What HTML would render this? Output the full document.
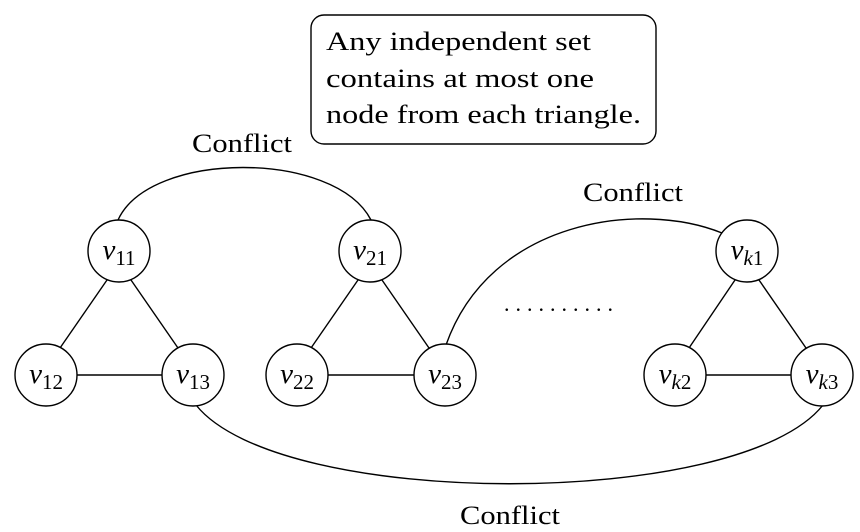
<!DOCTYPE html>
<html><head><meta charset="utf-8"><style>
html,body{margin:0;padding:0;background:#fff;}
svg{display:block;font-family:"Liberation Serif","DejaVu Serif",serif;}
</style></head><body>
<svg width="860" height="532" viewBox="0 0 860 532" xmlns="http://www.w3.org/2000/svg">
<g fill="none" stroke="#000" stroke-width="1.4">
<rect x="311" y="15" width="345" height="129" rx="13"/>
<path d="M118 220 C150 150,335 150,371 220"/>
<path d="M446 345 C490 220,640 200,722 233"/>
<path d="M196 405 C280 510,740 510,823 405"/>
<line x1="107" y1="280" x2="60" y2="348"/><line x1="131" y1="280" x2="178" y2="348"/><line x1="77" y1="375" x2="162" y2="375"/>
<line x1="358" y1="280" x2="311" y2="348"/><line x1="382" y1="280" x2="429" y2="348"/><line x1="328" y1="375" x2="414" y2="375"/>
<line x1="735" y1="280" x2="689" y2="348"/><line x1="759" y1="280" x2="806" y2="348"/><line x1="706" y1="375" x2="791" y2="375"/>
<g fill="#fff">
<circle cx="119" cy="251" r="31"/><circle cx="370" cy="251" r="31"/><circle cx="747" cy="251" r="31"/>
<circle cx="46" cy="375" r="31"/><circle cx="193" cy="375" r="31"/><circle cx="297" cy="375" r="31"/>
<circle cx="445" cy="375" r="31"/><circle cx="675" cy="375" r="31"/><circle cx="822" cy="375" r="31"/>
</g></g>
<g font-size="26" fill="#000">
<text x="326" y="50" textLength="265" lengthAdjust="spacingAndGlyphs">Any independent set</text>
<text x="326" y="87" textLength="268" lengthAdjust="spacingAndGlyphs">contains at most one</text>
<text x="326" y="123" textLength="315" lengthAdjust="spacingAndGlyphs">node from each triangle.</text>
<text x="192" y="152" textLength="100" lengthAdjust="spacingAndGlyphs">Conflict</text>
<text x="583" y="201" textLength="100" lengthAdjust="spacingAndGlyphs">Conflict</text>
<text x="460" y="524" textLength="100" lengthAdjust="spacingAndGlyphs">Conflict</text>
</g>
<text x="504" y="311" font-size="22" letter-spacing="6">..........</text>
<g font-size="29" fill="#000" text-anchor="middle">
<text x="119" y="259"><tspan font-style="italic">v</tspan><tspan font-size="21" dy="6">11</tspan></text>
<text x="370" y="259"><tspan font-style="italic">v</tspan><tspan font-size="21" dy="6">21</tspan></text>
<text x="747" y="259"><tspan font-style="italic">v</tspan><tspan font-size="21" dy="6"><tspan font-style="italic">k</tspan>1</tspan></text>
<text x="46" y="383"><tspan font-style="italic">v</tspan><tspan font-size="21" dy="6">12</tspan></text>
<text x="193" y="383"><tspan font-style="italic">v</tspan><tspan font-size="21" dy="6">13</tspan></text>
<text x="297" y="383"><tspan font-style="italic">v</tspan><tspan font-size="21" dy="6">22</tspan></text>
<text x="445" y="383"><tspan font-style="italic">v</tspan><tspan font-size="21" dy="6">23</tspan></text>
<text x="675" y="383"><tspan font-style="italic">v</tspan><tspan font-size="21" dy="6"><tspan font-style="italic">k</tspan>2</tspan></text>
<text x="822" y="383"><tspan font-style="italic">v</tspan><tspan font-size="21" dy="6"><tspan font-style="italic">k</tspan>3</tspan></text>
</g>
</svg>
</body></html>
